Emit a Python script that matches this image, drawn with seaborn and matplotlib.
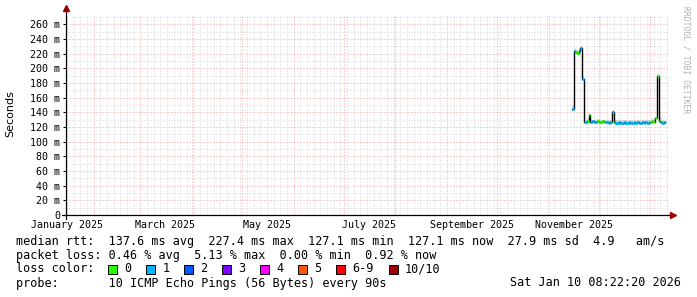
import numpy as np
import pandas as pd
import matplotlib
matplotlib.use("Agg")
import matplotlib.pyplot as plt
import matplotlib.dates as mdates
from matplotlib.ticker import MultipleLocator, FuncFormatter
from matplotlib.patches import Rectangle
import seaborn as sns

# ---------------- data ----------------
x_start = "2025-01-15 12:00"
x_end = "2026-01-11 12:00"
now_stamp = "2026-01-10 08:22:20"
first_day = "2025-11-15"

median_ms = [144, 224, 222, 221, 223, 228, 186, 127, 127, 128,
             137, 127, 128, 127, 127, 128, 127, 127, 128, 127,
             127, 127, 126, 127, 141, 127, 126, 126, 127, 126,
             126, 127, 126, 126, 127, 126, 126, 127, 126, 127,
             126, 126, 127, 126, 127, 126, 127, 127, 128, 127,
             132, 190, 128, 127, 126, 127, 127]
smoke_hi = [150, 228, 226, 225, 227, 230, 190, 130, 130, 131,
            139, 130, 130, 130, 129, 131, 130, 130, 130, 130,
            130, 130, 129, 130, 143, 130, 129, 129, 130, 129,
            129, 130, 129, 129, 130, 129, 129, 130, 129, 130,
            129, 129, 130, 129, 130, 129, 130, 130, 131, 130,
            134, 192, 131, 133, 129, 130, 130]
loss_idx = [1, 1, 0, 0, 1, 1, 1, 1, 1, 0,
            0, 1, 1, 1, 1, 0, 0, 0, 0, 0,
            1, 1, 1, 1, 1, 0, 1, 1, 1, 1,
            1, 1, 1, 1, 1, 1, 1, 1, 1, 1,
            1, 1, 1, 1, 1, 1, 1, 0, 0, 0,
            0, 0, 0, 1, 1, 1, 1]

loss_labels = ["0", "1", "2", "3", "4", "5", "6-9", "10/10"]
loss_colors = ["#26ff00", "#00b8ff", "#0059ff", "#7e00ff",
               "#ff00ff", "#ff5500", "#ff0000", "#a10000"]

y_ticks = list(range(0, 261, 20))
month_labels = ["January 2025", "March 2025", "May 2025",
                "July 2025", "September 2025", "November 2025"]
month_label_dates = ["2025-01-16", "2025-03-16", "2025-05-16",
                     "2025-07-16", "2025-09-16", "2025-11-16"]

legend_lines = [
    "median rtt:  137.6 ms avg  227.4 ms max  127.1 ms min  127.1 ms now  27.9 ms sd  4.9   am/s",
    "packet loss: 0.46 % avg  5.13 % max  0.00 % min  0.92 % now",
]
probe_line = "probe:       10 ICMP Echo Pings (56 Bytes) every 90s"
stamp_text = "Sat Jan 10 08:22:20 2026"

# ---------------- style ----------------
sns.set_theme(style="white")
plt.rcParams['font.family'] = ['DejaVu Sans Mono', 'DejaVu Sans']

W, H = 697, 297
fig = plt.figure(figsize=(W / 100, H / 100), dpi=100)
fig.patch.set_facecolor("white")
ax = fig.add_axes([66 / W, 1 - 215 / H, 602 / W, 201 / H])
ax.set_facecolor("white")

times = pd.date_range(first_day, periods=len(median_ms), freq="D")
now = pd.Timestamp(now_stamp)
ends = list(times[1:]) + [now]
df = pd.DataFrame({"time": times, "median": median_ms,
                   "hi": smoke_hi, "loss": loss_idx})

# smoke
ax.fill_between(df["time"], df["median"], df["hi"], step="post",
                color="#d6d6d6", lw=0, zorder=2)
# black step line (verticals)
sns.lineplot(data=df, x="time", y="median", ax=ax, color="black",
             lw=1.0, drawstyle="steps-post", estimator=None, zorder=3)
# colored median by loss
ax.hlines(df["median"], times, ends,
          colors=[loss_colors[i] for i in loss_idx], lw=2.2, zorder=4)

ax.set_xlim(pd.Timestamp(x_start), pd.Timestamp(x_end))
ax.set_ylim(0, 274)
ax.set_xlabel("")
ax.set_ylabel("")

# grid
ax.xaxis.set_major_locator(mdates.MonthLocator())
ax.xaxis.set_minor_locator(MultipleLocator(4))
ax.yaxis.set_major_locator(matplotlib.ticker.FixedLocator(y_ticks))
ax.yaxis.set_minor_locator(MultipleLocator(10))
ax.set_axisbelow(True)
ax.grid(True, which="minor", color="#d4d4d4", lw=0.72, ls=(0, (1, 2)))
ax.grid(True, which="major", color="#f0a4a4", lw=0.72, ls=(0, (1, 2)))

ax.yaxis.set_major_formatter(FuncFormatter(lambda v, p: "0" if v == 0 else f"{int(v)} m"))
ax.tick_params(axis="y", which="major", left=True, length=2.2, width=0.72,
               color="black", pad=2.2, labelsize=7.2, labelcolor="black")
ax.tick_params(axis="y", which="minor", left=False, length=0)
ax.tick_params(axis="x", which="both", bottom=False, length=0, labelbottom=False)
for s in ax.spines.values():
    s.set_visible(False)

# month labels
for lab, d in zip(month_labels, month_label_dates):
    ax.text(pd.Timestamp(d), -10 / 201, lab, transform=ax.get_xaxis_transform(),
            ha="center", va="center", fontsize=7.2, color="black", clip_on=False)

# axes with arrows
arrow_col = "#9b0000"
ax.plot([-4 / 602, 1.006], [0, 0], transform=ax.transAxes, color="black",
        lw=0.9, clip_on=False, zorder=5)
ax.plot([1.008], [0], transform=ax.transAxes, marker=">", ms=4.2,
        color=arrow_col, clip_on=False, zorder=6)
ax.plot([0, 0], [-4 / 201, 1.025], transform=ax.transAxes, color="black",
        lw=0.9, clip_on=False, zorder=5)
ax.plot([0], [1.03], transform=ax.transAxes, marker="^", ms=4.2,
        color=arrow_col, clip_on=False, zorder=6)

# labels
fig.text(10 / W, 1 - 114 / H, "Seconds", rotation=90, ha="center", va="center",
         fontsize=8, family="DejaVu Sans", color="black")
fig.text(686 / W, 1 - 60 / H, "RRDTOOL / TOBI OETIKER", rotation=270,
         ha="center", va="center", fontsize=5.8, color="#b0b0b0")

# legend
fs = 8.5
cw = 7.1
x0 = 16
rows_y = [241, 255, 269, 283]
for txt, yy in zip(legend_lines, rows_y[:2]):
    fig.text(x0 / W, 1 - yy / H, txt, ha="left", va="center", fontsize=fs, color="black")
fig.text(x0 / W, 1 - rows_y[2] / H, "loss color:", ha="left", va="center",
         fontsize=fs, color="black")
col = 13.0
for lab, c in zip(loss_labels, loss_colors):
    bx = x0 + col * cw
    fig.patches.append(Rectangle(((bx) / W, 1 - (rows_y[2] + 4.5) / H), 9 / W, 9 / H,
                                 transform=fig.transFigure, facecolor=c,
                                 edgecolor="black", lw=0.7))
    tx = bx + 16
    fig.text(tx / W, 1 - rows_y[2] / H, lab, ha="left", va="center",
             fontsize=fs, color="black")
    col = (tx - x0) / cw + len(lab) + 2.1
fig.text(x0 / W, 1 - rows_y[3] / H, probe_line, ha="left", va="center",
         fontsize=fs, color="black")
fig.text(681 / W, 1 - rows_y[3] / H, stamp_text, ha="right", va="center",
         fontsize=fs, color="black")

fig.savefig("out.png", dpi=100)
